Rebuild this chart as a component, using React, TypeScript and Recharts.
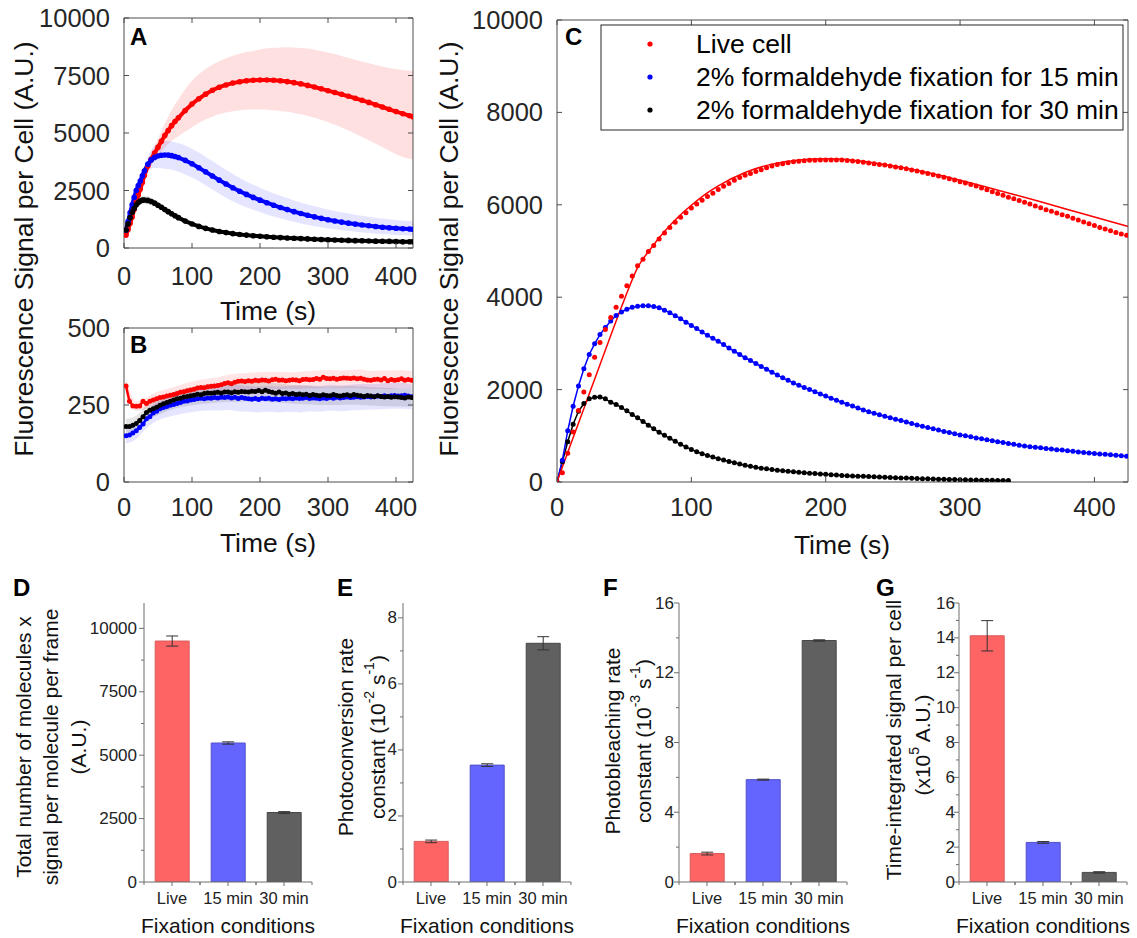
import React from "react";
import { ComposedChart, BarChart, Bar, Line, Area, XAxis, YAxis, Cell, ErrorBar } from "recharts";

const FONT = "'Liberation Sans', Arial, Helvetica, sans-serif";
const INK = "#262626";
const BOX = "#4d4d4d";
const RED = "#ff0000";
const BLUE = "#0000ff";
const BLACK = "#000000";

// ---------- panel A : mean signal per cell with sd band ----------
const timeA = [3, 6, 9, 12, 15, 18, 21, 24, 27, 30,
  35, 40, 45, 50, 55, 60, 65, 70, 75, 80,
  90, 100, 110, 120, 130, 140, 150, 160, 170, 180,
  190, 200, 210, 220, 230, 240, 250, 260, 270, 280,
  290, 300, 310, 320, 330, 340, 350, 360, 370, 380,
  390, 400, 410, 420, 425];

const liveA = [560, 800, 1080, 1350, 1680, 2000, 2300, 2560, 2850, 3150,
  3560, 3860, 4130, 4380, 4640, 4890, 5110, 5320, 5500, 5660,
  5980, 6260, 6490, 6690, 6860, 6990, 7090, 7170, 7230, 7270,
  7295, 7305, 7305, 7295, 7270, 7235, 7190, 7135, 7070, 7000,
  6920, 6840, 6760, 6680, 6600, 6510, 6420, 6330, 6230, 6130,
  6030, 5930, 5840, 5750, 5710];
const liveALow = [520, 750, 1020, 1280, 1590, 1890, 2170, 2410, 2680, 2960,
  3330, 3580, 3800, 4000, 4190, 4370, 4520, 4650, 4760, 4860,
  5060, 5250, 5430, 5590, 5710, 5810, 5890, 5950, 5990, 6010,
  6020, 6020, 6010, 5990, 5960, 5920, 5870, 5810, 5740, 5660,
  5570, 5470, 5360, 5240, 5110, 4970, 4830, 4680, 4530, 4380,
  4230, 4080, 3960, 3880, 3850];
const liveAHigh = [600, 850, 1140, 1420, 1770, 2110, 2430, 2710, 3020, 3340,
  3790, 4140, 4460, 4760, 5090, 5410, 5700, 5990, 6240, 6460,
  6900, 7270, 7550, 7780, 7970, 8120, 8250, 8360, 8450, 8520,
  8570, 8640, 8680, 8705, 8720, 8730, 8720, 8700, 8670, 8620,
  8560, 8500, 8430, 8350, 8270, 8190, 8110, 8030, 7960, 7890,
  7830, 7780, 7740, 7710, 7700];

const fix15A = [780, 1150, 1530, 1880, 2200, 2500, 2720, 2910, 3140, 3350,
  3640, 3830, 3940, 4000, 4035, 4045, 4040, 4015, 3980, 3930,
  3810, 3660, 3490, 3310, 3130, 2950, 2780, 2620, 2470, 2330,
  2200, 2080, 1970, 1860, 1760, 1670, 1580, 1500, 1425, 1355,
  1290, 1230, 1175, 1125, 1080, 1040, 1000, 965, 935, 905,
  880, 860, 840, 825, 818];
const fix15ALow = [700, 1060, 1420, 1760, 2060, 2340, 2540, 2720, 2930, 3120,
  3350, 3450, 3480, 3480, 3470, 3450, 3430, 3400, 3360, 3310,
  3200, 3060, 2900, 2720, 2540, 2360, 2190, 2030, 1890, 1770,
  1660, 1560, 1460, 1370, 1290, 1210, 1140, 1070, 1010, 950,
  900, 850, 810, 770, 735, 705, 675, 650, 625, 605,
  585, 570, 555, 545, 540];
const fix15AHigh = [860, 1240, 1640, 2000, 2340, 2660, 2900, 3100, 3350, 3580,
  3950, 4250, 4450, 4560, 4620, 4650, 4650, 4630, 4600, 4560,
  4460, 4320, 4150, 3970, 3780, 3590, 3400, 3220, 3050, 2890,
  2750, 2620, 2500, 2380, 2270, 2170, 2070, 1980, 1890, 1810,
  1740, 1670, 1610, 1550, 1500, 1450, 1400, 1360, 1320, 1280,
  1250, 1220, 1190, 1170, 1160];

const fix30A = [780, 1050, 1320, 1550, 1720, 1880, 1980, 2040, 2080, 2090,
  2070, 2020, 1950, 1860, 1770, 1670, 1580, 1490, 1400, 1320,
  1170, 1045, 940, 855, 780, 720, 670, 625, 590, 560,
  535, 510, 490, 470, 452, 436, 422, 408, 395, 383,
  371, 360, 350, 340, 330, 320, 312, 305, 298, 292,
  286, 280, 275, 270, 268];
const fix30ALow = [700, 960, 1220, 1440, 1600, 1740, 1820, 1870, 1900, 1905,
  1890, 1850, 1790, 1710, 1630, 1540, 1460, 1380, 1300, 1230,
  1090, 975, 880, 800, 735, 680, 633, 592, 559, 530,
  507, 484, 465, 446, 429, 414, 401, 388, 376, 365,
  354, 344, 335, 326, 317, 308, 301, 294, 288, 282,
  276, 271, 266, 262, 260];
const fix30AHigh = [860, 1140, 1420, 1660, 1840, 2020, 2140, 2210, 2260, 2275,
  2250, 2190, 2110, 2010, 1910, 1800, 1700, 1600, 1500, 1410,
  1250, 1115, 1000, 910, 825, 760, 707, 658, 621, 590,
  563, 536, 515, 494, 475, 458, 443, 428, 414, 401,
  388, 376, 365, 354, 343, 332, 323, 316, 308, 302,
  296, 289, 284, 278, 276];

// ---------- panel B : background signal ----------
const timeB = [3, 8, 13, 18, 23, 28, 33, 38, 43, 48,
  53, 58, 63, 68, 73, 78, 83, 88, 93, 98,
  103, 108, 113, 118, 123, 128, 133, 138, 143, 148,
  153, 158, 163, 168, 173, 178, 183, 188, 193, 198,
  203, 208, 213, 218, 223, 228, 233, 238, 243, 248,
  253, 258, 263, 268, 273, 278, 283, 288, 293, 298,
  303, 308, 313, 318, 323, 328, 333, 338, 343, 348,
  353, 358, 363, 368, 373, 378, 383, 388, 393, 398,
  403, 408, 413, 418, 423];
const liveB = [312, 262, 247, 246, 247, 262, 255, 262, 266, 270,
  274, 276, 279, 282, 284, 287, 291, 293, 296, 299,
  301, 305, 307, 306, 309, 311, 312, 313, 316, 320,
  322, 319, 324, 327, 328, 326, 329, 327, 330, 329,
  331, 330, 328, 332, 334, 330, 331, 329, 330, 332,
  331, 329, 333, 334, 332, 333, 336, 334, 340, 336,
  335, 337, 334, 336, 338, 337, 336, 338, 335, 337,
  334, 331, 330, 333, 334, 331, 336, 329, 333, 330,
  332, 335, 330, 333, 330];
const fix15B = [150, 153, 159, 166, 177, 188, 205, 212, 224, 230,
  238, 242, 245, 249, 252, 255, 258, 262, 263, 266,
  268, 270, 272, 270, 273, 272, 274, 273, 275, 274,
  276, 273, 275, 271, 274, 272, 270, 269, 271, 268,
  272, 270, 272, 269, 270, 268, 271, 270, 272, 270,
  273, 271, 272, 274, 271, 273, 272, 270, 273, 271,
  274, 272, 275, 273, 274, 276, 274, 275, 277, 275,
  276, 278, 276, 277, 279, 278, 280, 278, 280, 281,
  279, 280, 282, 279, 277];
const fix30B = [180, 180, 184, 190, 200, 212, 226, 233, 238, 243,
  249, 254, 258, 262, 266, 270, 272, 276, 278, 280,
  282, 285, 283, 287, 289, 288, 290, 291, 289, 292,
  292, 290, 293, 291, 294, 293, 292, 295, 294, 297,
  293, 298, 294, 291, 288, 292, 287, 289, 285, 287,
  284, 286, 283, 285, 281, 284, 282, 280, 283, 281,
  280, 284, 281, 279, 282, 283, 280, 284, 282, 280,
  278, 281, 279, 277, 280, 278, 276, 278, 275, 277,
  276, 274, 273, 276, 274];

const timeBandB = [3, 18, 33, 48, 63, 78, 93, 108, 123, 138, 153, 168, 183, 198, 213,
  228, 243, 258, 273, 288, 303, 318, 333, 348, 363, 378, 393, 408, 423];
const liveBLow = [290, 230, 238, 250, 258, 265, 272, 280, 285, 288, 295, 298, 300, 302, 300,
  302, 303, 302, 304, 305, 306, 305, 306, 305, 302, 303, 302, 304, 302];
const liveBHigh = [335, 262, 275, 292, 302, 312, 322, 330, 335, 340, 348, 352, 355, 356, 358,
  358, 356, 358, 360, 362, 364, 362, 364, 365, 360, 362, 362, 364, 360];
const fix15BLow = [125, 140, 175, 198, 210, 218, 225, 230, 232, 232, 234, 230, 228, 226, 228,
  226, 228, 226, 230, 228, 232, 230, 232, 234, 235, 236, 238, 238, 236];
const fix15BHigh = [175, 192, 232, 260, 278, 290, 300, 308, 312, 314, 316, 314, 312, 310, 312,
  310, 312, 314, 314, 312, 316, 314, 316, 318, 318, 320, 322, 322, 318];
const fix30BLow = [160, 165, 200, 215, 230, 240, 247, 252, 255, 258, 260, 260, 262, 263, 260,
  258, 255, 253, 252, 250, 250, 250, 252, 250, 248, 247, 246, 245, 244];
const fix30BHigh = [205, 215, 250, 268, 283, 297, 305, 312, 318, 320, 322, 322, 324, 326, 322,
  320, 316, 314, 312, 310, 310, 310, 312, 310, 308, 307, 305, 304, 303];

// ---------- panel C : single cell traces with fits ----------
const timeC = [0, 4, 8, 12, 16, 20, 24, 28, 32, 36,
  40, 44, 48, 52, 56, 60, 64, 68, 72, 76,
  80, 84, 88, 92, 96, 100, 104, 108, 112, 116,
  120, 124, 128, 132, 136, 140, 144, 148, 152, 156,
  160, 164, 168, 172, 176, 180, 184, 188, 192, 196,
  200, 204, 208, 212, 216, 220, 224, 228, 232, 236,
  240, 244, 248, 252, 256, 260, 264, 268, 272, 276,
  280, 284, 288, 292, 296, 300, 304, 308, 312, 316,
  320, 324, 328, 332, 336, 340, 344, 348, 352, 356,
  360, 364, 368, 372, 376, 380, 384, 388, 392, 396,
  400, 404, 408, 412, 416, 420, 424];
const liveC = [0, 200, 620, 1080, 1550, 1950, 2320, 2700, 3020, 3300,
  3560, 3780, 4020, 4250, 4460, 4680, 4820, 4990, 5120, 5260,
  5390, 5510, 5620, 5730, 5830, 5930, 6020, 6100, 6180, 6250,
  6330, 6400, 6460, 6530, 6590, 6640, 6680, 6720, 6760, 6800,
  6840, 6870, 6890, 6910, 6930, 6945, 6955, 6962, 6966, 6969,
  6970, 6970, 6970, 6968, 6960, 6950, 6935, 6920, 6905, 6890,
  6875, 6860, 6840, 6820, 6800, 6780, 6755, 6730, 6705, 6680,
  6650, 6625, 6595, 6565, 6535, 6500, 6470, 6440, 6405, 6365,
  6325, 6285, 6245, 6205, 6165, 6130, 6095, 6055, 6015, 5975,
  5935, 5895, 5860, 5820, 5785, 5750, 5710, 5670, 5630, 5590,
  5550, 5510, 5475, 5440, 5400, 5370, 5340];
const fix15C = [0, 470, 1110, 1640, 2080, 2450, 2760, 2990, 3190, 3345,
  3485, 3605, 3680, 3740, 3780, 3805, 3815, 3815, 3800, 3770,
  3720, 3665, 3600, 3535, 3460, 3390, 3320, 3245, 3175, 3110,
  3045, 2975, 2900, 2830, 2760, 2690, 2630, 2565, 2500, 2440,
  2375, 2315, 2255, 2200, 2145, 2095, 2045, 2000, 1955, 1905,
  1860, 1815, 1770, 1725, 1685, 1645, 1600, 1560, 1520, 1490,
  1455, 1425, 1390, 1360, 1330, 1300, 1265, 1235, 1205, 1180,
  1150, 1125, 1095, 1070, 1045, 1020, 1000, 978, 955, 935,
  912, 892, 872, 853, 835, 815, 795, 780, 765, 752,
  740, 725, 712, 700, 690, 678, 666, 652, 640, 628,
  615, 605, 598, 590, 580, 570, 560];
const fix30C = [0, 440, 870, 1250, 1530, 1700, 1800, 1832, 1838, 1800,
  1725, 1680, 1610, 1540, 1460, 1390, 1310, 1230, 1150, 1075,
  1010, 945, 880, 815, 760, 705, 655, 612, 575, 540,
  505, 475, 445, 415, 390, 362, 340, 320, 300, 285,
  268, 255, 245, 232, 220, 210, 200, 192, 183, 175,
  166, 157, 150, 142, 135, 130, 126, 122, 118, 112,
  107, 102, 96, 92, 88, 84, 80, 76, 72, 68,
  65, 62, 58, 55, 52, 49, 46, 44, 42, 40,
  38, 36, 34, 32, 30];
const timeFitLive = [0, 10, 20, 30, 40, 50, 60, 70, 80, 90, 100, 110, 120, 140,
  160, 180, 200, 220, 240, 260, 280, 300, 320, 340, 360, 380, 400, 425];
const fitLive = [0, 800, 1590, 2380, 3170, 3940, 4640, 5060, 5420, 5730, 5990, 6220, 6410, 6700,
  6880, 6970, 6995, 6965, 6890, 6790, 6670, 6530, 6380, 6225, 6065, 5900, 5735, 5530];

// ---------- panels D-G : bar summaries ----------
const conditions = ["Live", "15 min", "30 min"];
const totalSignal = [9500, 5480, 2740];
const totalSignalErr = [200, 45, 35];
const photoconversion = [1.23, 3.54, 7.23];
const photoconversionErr = [0.04, 0.04, 0.2];
const photobleaching = [1.63, 5.87, 13.85];
const photobleachingErr = [0.08, 0.03, 0.04];
const integratedSignal = [14.12, 2.27, 0.55];
const integratedSignalErr = [0.87, 0.05, 0.04];

const timeTicks = [0, 100, 200, 300, 400];
const ticksA = [0, 2500, 5000, 7500, 10000];
const ticksB = [0, 250, 500];
const ticksC = [0, 2000, 4000, 6000, 8000, 10000];
const ticksD = [0, 1250, 2500, 3750, 5000, 6250, 7500, 8750, 10000];
const ticksE = [0, 1, 2, 3, 4, 5, 6, 7, 8];
const ticksF = [0, 2, 4, 6, 8, 10, 12, 14, 16];
const ticksG = [0, 1, 2, 3, 4, 5, 6, 7, 8, 9, 10, 11, 12, 13, 14, 15, 16];

const barFill = ["#ff6464", "#6464ff", "#606060"];
const barStroke = ["#d85a5a", "#5050c8", "#474747"];

const pts = (ts: number[], vs: number[]) => ts.map((t, i) => ({ t, v: vs[i] }));
const band = (ts: number[], lo: number[], hi: number[]) => ts.map((t, i) => ({ t, v: [lo[i], hi[i]] }));

// matlab style ticks: inside the box, on all four sides
const BottomTick = (p: any) => (
  <g>
    <line x1={p.x} x2={p.x} y1={p.y} y2={p.y - 5} stroke={BOX} />
    <text x={p.x} y={p.y + p.gap} textAnchor="middle" dominantBaseline="central" fontSize={25.5} fontFamily={FONT} fill={INK}>
      {p.payload.value}
    </text>
  </g>
);
const LeftTick = (p: any) => (
  <g>
    <line x1={p.x} x2={p.x + 5} y1={p.y} y2={p.y} stroke={BOX} />
    <text x={p.x - 14} y={p.y} textAnchor="end" dominantBaseline="central" fontSize={25.5} fontFamily={FONT} fill={INK}>
      {p.payload.value}
    </text>
  </g>
);
const TopTick = (p: any) => <line x1={p.x} x2={p.x} y1={p.y} y2={p.y + 5} stroke={BOX} />;
const RightTick = (p: any) => <line x1={p.x} x2={p.x - 5} y1={p.y} y2={p.y} stroke={BOX} />;

// top/right axes are 1px thick: recharts skips an axis with zero size
const TimePanel = ({ left, top, width, height, margin, yWidth, xHeight, yDomain, yTicks, gap, anchor, children }: any) => (
  <div style={{ position: "absolute", left, top }}>
    <ComposedChart width={width} height={height}
      margin={{ top: margin.top - 1, right: margin.right - 1, left: margin.left, bottom: margin.bottom }}>
      <XAxis dataKey="t" type="number" domain={[0, 425]} ticks={timeTicks} interval={0} height={xHeight}
        tickLine={false} tickSize={0} tickMargin={0} axisLine={{ stroke: BOX }} allowDataOverflow
        tick={(p: any) => <BottomTick {...p} gap={gap} />} />
      <XAxis xAxisId="top" orientation="top" dataKey="t" type="number" domain={[0, 425]} ticks={timeTicks} interval={0}
        height={1} tickLine={false} tickSize={0} tickMargin={0} axisLine={{ stroke: BOX }} allowDataOverflow
        tick={(p: any) => <TopTick {...p} />} />
      <YAxis type="number" domain={yDomain} ticks={yTicks} interval={0} width={yWidth}
        tickLine={false} tickSize={0} tickMargin={0} axisLine={{ stroke: BOX }} allowDataOverflow
        tick={(p: any) => <LeftTick {...p} />} />
      <YAxis yAxisId="right" orientation="right" type="number" domain={yDomain} ticks={yTicks} interval={0} width={1}
        tickLine={false} tickSize={0} tickMargin={0} axisLine={{ stroke: BOX }} allowDataOverflow
        tick={(p: any) => <RightTick {...p} />} />
      <Line data={anchor} xAxisId="top" yAxisId="right" dataKey="v" stroke="none" strokeWidth={0}
        dot={false} activeDot={false} isAnimationActive={false} legendType="none" />
      {children}
    </ComposedChart>
  </div>
);

const BarXTick = (p: any) => (
  <g>
    <line x1={p.x} x2={p.x} y1={p.y} y2={p.y + 4} stroke="#6e6e6e" />
    <line x1={p.x - 28} x2={p.x - 28} y1={p.y} y2={p.y + 3} stroke="#6e6e6e" />
    <line x1={p.x + 28} x2={p.x + 28} y1={p.y} y2={p.y + 3} stroke="#6e6e6e" />
    <text x={p.x} y={p.y + 16} textAnchor="middle" dominantBaseline="central" fontSize={16.5} fontFamily={FONT} fill="#222">
      {p.payload.value}
    </text>
  </g>
);
const BarYTick = (p: any) => {
  const v = p.payload.value;
  const major = Math.abs(v / p.step - Math.round(v / p.step)) < 1e-6;
  return (
    <g>
      <line x1={p.x} x2={p.x - (major ? 5 : 3)} y1={p.y} y2={p.y} stroke="#6e6e6e" />
      {major && (
        <text x={p.x - p.pad} y={p.y} textAnchor="end" dominantBaseline="central" fontSize={17} fontFamily={FONT} fill="#222">
          {v}
        </text>
      )}
    </g>
  );
};

const BarPanel = ({ axisX, top, domain, ticks, step, pad, values, errors }: any) => {
  const data = conditions.map((c, i) => ({ name: c, v: values[i], e: errors[i] }));
  return (
    <div style={{ position: "absolute", left: axisX - 70, top: top - 10 }}>
      <BarChart width={252} height={10 + (882 - top) + 40} data={data} margin={{ top: 10, right: 14, left: 0, bottom: 0 }} barCategoryGap="20%">
        <XAxis dataKey="name" height={40} interval={0} tickLine={false} tickSize={0} tickMargin={0}
          axisLine={{ stroke: "#6e6e6e" }} tick={(p: any) => <BarXTick {...p} />} />
        <YAxis type="number" width={70} domain={domain} ticks={ticks} interval={0} allowDataOverflow
          tickLine={false} tickSize={0} tickMargin={0} axisLine={{ stroke: "#6e6e6e" }}
          tick={(p: any) => <BarYTick {...p} step={step} pad={pad} />} />
        <Bar dataKey="v" isAnimationActive={false} strokeWidth={1}>
          {data.map((d, i) => (
            <Cell key={d.name} fill={barFill[i]} stroke={barStroke[i]} />
          ))}
          <ErrorBar dataKey="e" width={6} stroke="#333" strokeWidth={1} />
        </Bar>
      </BarChart>
    </div>
  );
};

const VText = ({ x, y, size = 21, children }: any) => (
  <text transform={`translate(${x},${y}) rotate(-90)`} textAnchor="middle" dominantBaseline="central"
    fontSize={size} fontFamily={FONT} fill="#111">
    {children}
  </text>
);

const Letter = ({ x, y, children }: any) => (
  <text x={x} y={y} fontSize={24} fontWeight="bold" fontFamily={FONT} fill="#000">{children}</text>
);

const legendRows = [
  { label: "Live cell", color: RED },
  { label: "2% formaldehyde fixation for 15 min", color: BLUE },
  { label: "2% formaldehyde fixation for 30 min", color: BLACK },
];

const Overlay = () => (
  <svg width={1137} height={938} style={{ position: "absolute", left: 0, top: 0, pointerEvents: "none" }}>
    <VText x={24} y={249} size={26.5}>Fluorescence Signal per Cell (A.U.)</VText>
    <VText x={449} y={249} size={26.5}>Fluorescence Signal per Cell (A.U.)</VText>
    {[[268, 311], [268, 543], [842, 545]].map(([x, y]) => (
      <text key={`${x}-${y}`} x={x} y={y} textAnchor="middle" dominantBaseline="central" fontSize={26.5} fontFamily={FONT} fill="#111">Time (s)</text>
    ))}
    <Letter x={130} y={45}>A</Letter>
    <Letter x={130} y={353}>B</Letter>
    <Letter x={565} y={45}>C</Letter>
    <Letter x={13} y={596}>D</Letter>
    <Letter x={337} y={596}>E</Letter>
    <Letter x={603} y={596}>F</Letter>
    <Letter x={876} y={596}>G</Letter>

    <rect x={601} y={25} width={522} height={105} fill="#fff" stroke={INK} strokeWidth={1} />
    {legendRows.map((r, i) => (
      <g key={r.label}>
        <circle cx={650} cy={44 + i * 33} r={2.6} fill={r.color} />
        <text x={696} y={44 + i * 33} dominantBaseline="central" fontSize={26.5} fontFamily={FONT} fill="#000">{r.label}</text>
      </g>
    ))}

    <VText x={23} y={747}>Total number of molecules x</VText>
    <VText x={50} y={747}>signal per molecule per frame</VText>
    <VText x={78} y={747}>(A.U.)</VText>
    <VText x={345} y={737}>Photoconversion rate</VText>
    <VText x={377} y={737}>
      constant (10<tspan dy={-8} fontSize={14}>-2</tspan><tspan dy={8}> s</tspan>
      <tspan dy={-8} fontSize={14}>-1</tspan><tspan dy={8}>)</tspan>
    </VText>
    <VText x={612} y={741}>Photobleaching rate</VText>
    <VText x={643} y={741}>
      constant (10<tspan dy={-8} fontSize={14}>-3</tspan><tspan dy={8}> s</tspan>
      <tspan dy={-8} fontSize={14}>-1</tspan><tspan dy={8}>)</tspan>
    </VText>
    <VText x={893} y={740}>Time-integrated signal per cell</VText>
    <VText x={922} y={745}>
      (x10<tspan dy={-8} fontSize={14}>5</tspan><tspan dy={8}> A.U.)</tspan>
    </VText>
    {[228, 487, 763, 1043].map((x) => (
      <text key={x} x={x} y={925} textAnchor="middle" dominantBaseline="central" fontSize={21} fontFamily={FONT} fill="#111">Fixation conditions</text>
    ))}
  </svg>
);

const meanLine = (data: any[], color: string, w: number, r: number) => (
  <Line data={data} dataKey="v" type="linear" stroke={color} strokeWidth={w} isAnimationActive={false}
    dot={{ r, fill: color, stroke: "none" }} activeDot={false} />
);
const bandArea = (data: any[], color: string, op: number) => (
  <Area data={data} dataKey="v" type="monotone" stroke="none" fill={color} fillOpacity={op} isAnimationActive={false} activeDot={false} />
);

export default function App() {
  const liveAPts = pts(timeA, liveA);
  const liveBPts = pts(timeB, liveB);
  const liveCPts = pts(timeC, liveC);
  return (
    <div style={{ position: "absolute", left: 0, top: 0, width: 1137, height: 938, background: "#fff", fontFamily: FONT }}>
      <TimePanel left={0} top={0} width={430} height={290} margin={{ top: 18, right: 17, left: 0, bottom: 0 }}
        yWidth={124} xHeight={42} yDomain={[0, 10000]} yTicks={ticksA} gap={28} anchor={liveAPts}>
        {bandArea(band(timeA, liveALow, liveAHigh), RED, 0.12)}
        {bandArea(band(timeA, fix15ALow, fix15AHigh), BLUE, 0.1)}
        {bandArea(band(timeA, fix30ALow, fix30AHigh), BLACK, 0.1)}
        {meanLine(liveAPts, RED, 4, 2.8)}
        {meanLine(pts(timeA, fix15A), BLUE, 4, 2.8)}
        {meanLine(pts(timeA, fix30A), BLACK, 4, 2.8)}
      </TimePanel>

      <TimePanel left={0} top={310} width={430} height={222} margin={{ top: 18, right: 17, left: 0, bottom: 0 }}
        yWidth={124} xHeight={50} yDomain={[0, 500]} yTicks={ticksB} gap={25} anchor={liveBPts}>
        {bandArea(band(timeBandB, liveBLow, liveBHigh), RED, 0.1)}
        {bandArea(band(timeBandB, fix15BLow, fix15BHigh), BLUE, 0.1)}
        {bandArea(band(timeBandB, fix30BLow, fix30BHigh), BLACK, 0.1)}
        {meanLine(liveBPts, RED, 2.5, 2.5)}
        {meanLine(pts(timeB, fix15B), BLUE, 2.5, 2.5)}
        {meanLine(pts(timeB, fix30B), BLACK, 2.5, 2.5)}
      </TimePanel>

      <TimePanel left={430} top={0} width={707} height={532} margin={{ top: 20, right: 9, left: 0, bottom: 0 }}
        yWidth={127} xHeight={50} yDomain={[0, 10000]} yTicks={ticksC} gap={25} anchor={liveCPts}>
        {meanLine(pts(timeC.slice(0, fix30C.length), fix30C), BLACK, 1.5, 2.5)}
        {meanLine(pts(timeC, fix15C), BLUE, 1.5, 2.5)}
        <Line data={pts(timeFitLive, fitLive)} dataKey="v" type="monotone" stroke={RED} strokeWidth={1.5}
          dot={false} activeDot={false} isAnimationActive={false} />
        <Line data={liveCPts} dataKey="v" type="linear" stroke="none" strokeWidth={0}
          dot={{ r: 2.5, fill: RED, stroke: "none" }} activeDot={false} isAnimationActive={false} />
      </TimePanel>

      <BarPanel axisX={144} top={603} domain={[0, 11000]} ticks={ticksD} step={2500} pad={7} values={totalSignal} errors={totalSignalErr} />
      <BarPanel axisX={403} top={603} domain={[0, 8.45]} ticks={ticksE} step={2} pad={6} values={photoconversion} errors={photoconversionErr} />
      <BarPanel axisX={679} top={603} domain={[0, 16]} ticks={ticksF} step={4} pad={5} values={photobleaching} errors={photobleachingErr} />
      <BarPanel axisX={959} top={603} domain={[0, 16]} ticks={ticksG} step={2} pad={4} values={integratedSignal} errors={integratedSignalErr} />

      <Overlay />
    </div>
  );
}
